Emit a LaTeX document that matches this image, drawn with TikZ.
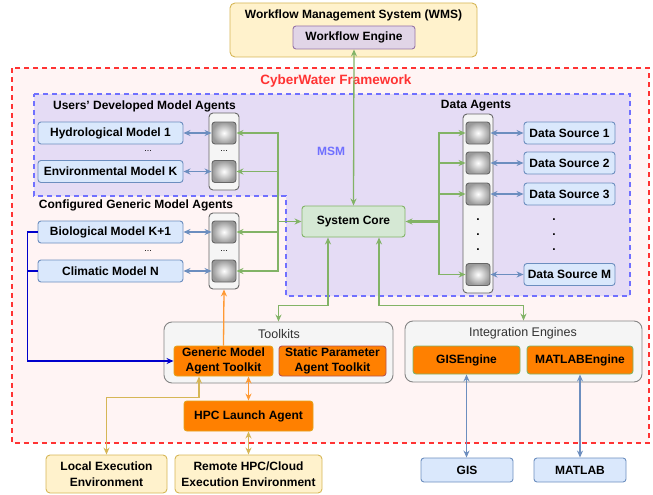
\documentclass[tikz,border=0pt]{standalone}
\usepackage{fontspec}
\setmainfont{Liberation Sans}
\usetikzlibrary{arrows.meta}
\definecolor{ylwfill}{HTML}{FFF2CC}
\definecolor{ylwline}{HTML}{D6B656}
\definecolor{prpfill}{HTML}{E1D5E7}
\definecolor{prpline}{HTML}{9673A6}
\definecolor{blufill}{HTML}{DAE8FC}
\definecolor{bluline}{HTML}{6C8EBF}
\definecolor{grnfill}{HTML}{D5E8D4}
\definecolor{grnline}{HTML}{82B366}
\definecolor{gryfill}{HTML}{F5F5F5}
\definecolor{gryline}{HTML}{666666}
\definecolor{orgfill}{HTML}{FF8000}
\definecolor{orgline}{HTML}{E3A21A}
\definecolor{redline}{HTML}{B85450}
\definecolor{orgarr}{HTML}{FF9933}
\definecolor{fwline}{HTML}{FF3333}
\definecolor{fwfill}{HTML}{FFF4F4}
\definecolor{msmline}{HTML}{7070FF}
\definecolor{msmfill}{HTML}{E5DCF5}
\definecolor{dkblue}{HTML}{0000CC}
\begin{document}
\begin{tikzpicture}[x=1pt,y=-1pt,
    >={Stealth[length=7pt,width=6pt]},
    txt/.style={font=\fontsize{12}{15.5}\selectfont\bfseries,inner sep=1pt,align=center},
    sub/.style={font=\fontsize{12.5}{15}\selectfont,text=black!80,inner sep=1pt},
    box/.style={txt,draw,line width=0.9pt,rounded corners=3pt},
    ybox/.style={box,fill=ylwfill,draw=ylwline,rounded corners=5pt},
    pbox/.style={box,fill=prpfill,draw=prpline},
    bbox/.style={box,fill=blufill,draw=bluline,minimum height=22pt},
    gbox/.style={box,fill=grnfill,draw=grnline},
    obox/.style={box,fill=orgfill,draw=orgline},
    gybox/.style={draw=gryline!80,line width=0.9pt,fill=gryfill,rounded corners=8pt},
    col/.style={draw=gryline,line width=0.9pt,fill=gryfill,rounded corners=4pt,minimum width=30pt},
    agt/.style={draw=gryline,line width=0.9pt,rounded corners=3pt,minimum width=24pt,minimum height=22pt,
      inner color=white,outer color=black!40,inner sep=0pt},
    garr/.style={draw=grnline,line width=1.3pt},
    barr/.style={draw=bluline,line width=1.3pt,<->},
    oarr/.style={draw=orgarr,line width=1.3pt},
    tarr/.style={draw=ylwline,line width=1.3pt},
    darr/.style={draw=dkblue,line width=1.5pt}]
  \useasboundingbox (0,0) rectangle (653,495);
  % framework and MSM areas
  \draw[draw=fwline,fill=fwfill,line width=1.5pt,dash pattern=on 5pt off 4pt] (12,68) rectangle (649,443);
  \node[txt,text=fwline,font=\fontsize{13.5}{16}\selectfont\bfseries] (fwtitle) at (336,81) {CyberWater Framework};
  \draw[draw=msmline,fill=msmfill,line width=1.4pt,dash pattern=on 5pt off 4pt]
    (34,94) -- (630,94) -- (630,296) -- (286,296) -- (286,196) -- (34,196) -- cycle;
  \node[txt,text=msmline] (msmtitle) at (331,151) {MSM};
  % WMS
  \node[ybox,minimum width=247pt,minimum height=54pt] (wms) at (353.5,30) {};
  \node[txt] (wmstitle) at (353.5,15) {Workflow Management System (WMS)};
  \node[pbox,minimum width=122pt,minimum height=23pt] (we) at (354,37.5) {Workflow Engine};
  % system core
  \node[gbox,minimum width=103pt,minimum height=31pt] (core) at (353.5,221.5) {System Core};
  \draw[garr,<->] (core.north) -- (we.south);
  % model agents
  \node[txt] (udlabel) at (144.5,106) {Users{\char"27} Developed Model Agents};
  \node[txt] (cglabel) at (136,205) {Configured Generic Model Agents};
  \node[col,minimum height=77pt] (colU) at (224,151.5) {};
  \node[col,minimum height=76pt] (colL) at (224,251) {};
  \coordinate (lbus) at (278,221.5);
  \draw[garr,->] (lbus) -- (core.west);
  \foreach \n/\y/\t in {hydro/133/Hydrological Model 1,env/171.5/Environmental Model K,
      bio/232/Biological Model K+1,clim/271/Climatic Model N} {
    \node[bbox,minimum width=145pt] (\n) at (110.5,\y) {\t};
    \node[agt] (a\n) at (224,\y) {};
    \draw[barr] (\n.east) -- (a\n.west);
    \draw[garr,->] (lbus) |- (a\n.east);
  }
  \foreach \x/\y/\m in {148/151/mu,224/151/au,148/251/ml,224/251/al} {
    \node[txt,font=\fontsize{9}{10}\selectfont] (dots\m) at (\x,\y) {...};
  }
  % data agents
  \node[txt] (dalabel) at (476,106) {Data Agents};
  \node[col,minimum height=179pt] (colD) at (478,203.5) {};
  \coordinate (rbus) at (439,221.5);
  \draw[garr,line width=2.2pt,<-] (core.east) -- (rbus);
  \foreach \i/\y/\t in {1/133/1,2/163/2,3/194/3,4/274.5/M} {
    \node[agt] (da\i) at (478,\y) {};
    \node[bbox,minimum width=91pt] (ds\i) at (569.5,\y) {Data Source \t};
    \draw[barr] (da\i.east) -- (ds\i.west);
    \draw[garr,->] (rbus) |- (da\i.west);
  }
  \foreach \y in {220,235,250} {
    \node[txt,inner sep=0pt] (vda\y) at (478,\y) {.};
    \node[txt,inner sep=0pt] (vds\y) at (554,\y) {.};
  }
  % toolkits
  \node[gybox,minimum width=229pt,minimum height=61pt] (tool) at (278.5,352.5) {};
  \node[sub] (tooltitle) at (279,334) {Toolkits};
  \node[obox,minimum width=99pt,minimum height=30pt] (gen) at (223.5,361) {Generic Model\\Agent Toolkit};
  \node[obox,draw=redline,minimum width=107pt,minimum height=30pt] (stat) at (332.5,361) {Static Parameter\\Agent Toolkit};
  \node[obox,minimum width=129pt,minimum height=30pt] (hpc) at (248.5,416) {HPC Launch Agent};
  % integration engines
  \node[gybox,minimum width=237pt,minimum height=61pt] (integ) at (523.5,351.5) {};
  \node[sub] (integtitle) at (523,333) {Integration Engines};
  \node[obox,draw=grnline,minimum width=107pt,minimum height=28pt] (gise) at (466.5,360) {GISEngine};
  \node[obox,draw=grnline,minimum width=106pt,minimum height=28pt] (mate) at (580,360) {MATLABEngine};
  \node[bbox,minimum width=92pt,minimum height=24pt] (gis) at (467,470) {GIS};
  \node[bbox,minimum width=92pt,minimum height=24pt] (matlab) at (580,470) {MATLAB};
  % execution environments
  \node[ybox,rounded corners=4pt,minimum width=121pt,minimum height=38pt] (local) at (106.5,474) {Local Execution\\Environment};
  \node[ybox,rounded corners=4pt,minimum width=147pt,minimum height=38pt] (remote) at (248.5,474) {Remote HPC/Cloud\\Execution Environment};
  % connectors
  \draw[garr,<->] ([xshift=-25.5pt]core.south) -- ++(0,68) -| (tool.north);
  \draw[garr,<->] ([xshift=25.5pt]core.south) -- ++(0,68) -| (integ.north);
  \draw[oarr,->] (gen.north) -- (colL.south);
  \draw[oarr,<->] (gen.south -| hpc.north) -- (hpc.north);
  \draw[tarr,<->] ([xshift=-24.5pt]gen.south) -- ++(0,21) -| (local.north);
  \draw[tarr,<->] (hpc.south) -- (remote.north);
  \draw[darr,->] (bio.west) -- ++(-10,0) |- (gen.west);
  \draw[darr] (clim.west) -- ++(-10,0);
  \draw[barr] (gise.south) -- (gise.south |- gis.north);
  \draw[barr] (mate.south) -- (mate.south |- matlab.north);
\end{tikzpicture}
\end{document}
